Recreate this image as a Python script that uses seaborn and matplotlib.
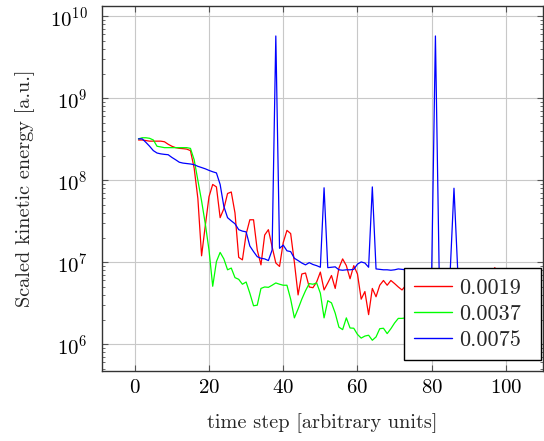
import numpy as np
import pandas as pd
import matplotlib
matplotlib.use("Agg")
import matplotlib.pyplot as plt
import seaborn as sns

# time steps and scaled kinetic energy for three step sizes
steps = list(range(1, 101))

energy_0019 = [
    3.1e8, 3.1e8, 3.05e8, 3.0e8, 3.0e8, 3.0e8, 3.0e8, 2.95e8, 2.75e8, 2.6e8,
    2.5e8, 2.45e8, 2.43e8, 2.4e8, 2.3e8, 1.41e8, 6.0e7, 1.2e7, 2.8e7, 6.3e7,
    8.9e7, 8.3e7, 3.5e7, 4.5e7, 6.9e7, 7.2e7, 4.0e7, 1.15e7, 1.07e7, 2.2e7,
    3.3e7, 3.3e7, 1.41e7, 9.3e6, 2.15e7, 2.5e7, 1.55e7, 9.8e6, 8.9e6, 1.74e7,
    2.45e7, 2.24e7, 1.0e7, 4.0e6, 7.2e6, 7.4e6, 5.0e6, 4.9e6, 5.75e6, 7.6e6,
    4.6e6, 5.6e6, 6.9e6, 4.8e6, 8.5e6, 1.1e7, 9.1e6, 6.3e6, 9.1e6, 7.2e6,
    3.55e6, 4.4e6, 2.3e6, 4.8e6, 3.8e6, 5.25e6, 6.0e6, 5.25e6, 6.0e6, 5.5e6,
    5.0e6, 4.6e6, 5.2e6, 5.4e6, 5.9e6, 6.3e6, 5.6e6, 6.8e6, 6.1e6, 5.3e6,
    6.6e6, 7.0e6, 6.0e6, 5.5e6, 6.9e6, 6.4e6, 7.1e6, 6.2e6, 5.8e6, 7.0e6,
    6.5e6, 6.9e6, 6.7e6, 7.0e6, 6.6e6, 7.1e6, 8.6e6, 7.0e6, 6.8e6, 7.0e6,
]

energy_0037 = [
    3.2e8, 3.3e8, 3.3e8, 3.25e8, 3.1e8, 2.6e8, 2.55e8, 2.5e8, 2.5e8, 2.5e8,
    2.5e8, 2.5e8, 2.5e8, 2.5e8, 2.45e8, 1.78e8, 1.0e8, 5.6e7, 2.95e7, 1.41e7,
    5.1e6, 1.02e7, 1.32e7, 1.1e7, 8.1e6, 8.5e6, 6.5e6, 6.2e6, 5.4e6, 5.75e6,
    4.2e6, 2.95e6, 3.0e6, 4.8e6, 5.0e6, 4.95e6, 5.25e6, 5.6e6, 5.4e6, 5.25e6,
    5.25e6, 3.55e6, 2.1e6, 2.7e6, 3.55e6, 4.5e6, 5.5e6, 5.4e6, 5.6e6, 4.2e6,
    2.1e6, 3.4e6, 3.2e6, 2.4e6, 1.62e6, 1.51e6, 2.1e6, 1.58e6, 1.57e6, 1.32e6,
    1.19e6, 1.26e6, 1.29e6, 1.12e6, 1.23e6, 1.55e6, 1.57e6, 1.35e6, 1.55e6, 1.82e6,
    2.07e6, 2.07e6, 2.1e6, 2.2e6, 2.0e6, 2.4e6, 2.6e6, 2.3e6, 2.8e6, 2.5e6,
    3.0e6, 2.7e6, 2.9e6, 3.3e6, 2.6e6, 3.1e6, 3.5e6, 3.2e6, 2.9e6, 3.6e6,
    3.4e6, 3.8e6, 3.3e6, 3.9e6, 3.5e6, 4.1e6, 3.7e6, 4.0e6, 4.3e6, 3.9e6,
]

energy_0075 = [
    3.2e8, 3.2e8, 2.9e8, 2.6e8, 2.3e8, 2.15e8, 2.1e8, 2.07e8, 2.05e8, 1.9e8,
    1.78e8, 1.66e8, 1.62e8, 1.6e8, 1.58e8, 1.55e8, 1.48e8, 1.43e8, 1.38e8, 1.32e8,
    1.27e8, 1.23e8, 8.9e7, 4.8e7, 3.5e7, 3.2e7, 2.95e7, 2.5e7, 2.4e7, 2.35e7,
    1.58e7, 1.35e7, 1.17e7, 1.12e7, 1.1e7, 1.05e7, 1.41e7, 5.75e9, 1.48e7, 1.62e7,
    1.38e7, 1.35e7, 1.12e7, 1.05e7, 9.8e6, 9.3e6, 9.9e6, 9.4e6, 9.1e6, 8.7e6,
    8.1e7, 8.6e6, 8.7e6, 8.8e6, 8.1e6, 8.0e6, 8.1e6, 8.1e6, 8.2e6, 9.5e6,
    1.01e7, 9.8e6, 8.7e6, 8.3e7, 8.3e6, 8.2e6, 8.1e6, 8.1e6, 8.0e6, 8.1e6,
    8.3e6, 8.2e6, 8.1e6, 8.0e6, 8.0e6, 8.1e6, 8.0e6, 8.0e6, 8.1e6, 8.2e6,
    5.75e9, 8.1e6, 8.0e6, 8.0e6, 8.1e6, 8.0e7, 8.1e6, 8.2e6, 8.3e6, 7.3e6,
    7.1e6, 7.0e6, 7.1e6, 7.0e6, 7.1e6, 7.0e6, 7.0e6, 7.1e6, 7.0e6, 7.0e6,
]

series_labels = ["0.0019", "0.0037", "0.0075"]
series_colors = ["#ff0000", "#00ff00", "#0000ff"]
x_ticks = [0, 20, 40, 60, 80, 100]

df = pd.concat(
    [
        pd.DataFrame({"step": steps, "energy": vals, "dt": lab})
        for lab, vals in zip(series_labels, [energy_0019, energy_0037, energy_0075])
    ],
    ignore_index=True,
)

sns.set_theme(style="whitegrid")
plt.rcParams.update({
    "font.family": ["cmr10", "DejaVu Serif"],
    "mathtext.fontset": "cm",
    "axes.formatter.use_mathtext": True,
    "axes.unicode_minus": False,
})

fig = plt.figure(figsize=(5.44, 4.41), dpi=100)
ax = fig.add_axes([0.187, 0.1594, 0.8106, 0.8277])

sns.lineplot(
    data=df, x="step", y="energy", hue="dt",
    palette=dict(zip(series_labels, series_colors)),
    hue_order=series_labels, linewidth=0.9, ax=ax, estimator=None,
)

ax.set_yscale("log")
ax.set_xlim(-8.9, 109.9)
ax.set_ylim(10 ** 5.678, 10 ** 10.129)
ax.set_xticks(x_ticks)
ax.yaxis.set_major_locator(matplotlib.ticker.LogLocator(base=10, numticks=10))
ax.yaxis.set_minor_locator(matplotlib.ticker.LogLocator(base=10, subs=np.arange(2, 10), numticks=20))
ax.yaxis.set_minor_formatter(matplotlib.ticker.NullFormatter())

ax.set_facecolor("white")
ax.grid(True, which="major", color="#c8c8c8", linewidth=0.8)
ax.grid(False, which="minor")
for sp in ax.spines.values():
    sp.set_color("#333333")
    sp.set_linewidth(1.0)

ax.tick_params(which="both", direction="in", top=True, right=True,
               bottom=True, left=True, colors="#555555", labelcolor="black")
ax.tick_params(which="major", length=4, width=0.8, labelsize=15)
ax.tick_params(which="minor", length=2.5, width=0.6)
ax.tick_params(axis="x", pad=6)
ax.tick_params(axis="y", pad=10)

ax.set_xlabel("time step [arbitrary units]", fontsize=14.6, labelpad=12)
ax.set_ylabel("Scaled kinetic energy [a.u.]", fontsize=14.6, labelpad=11)

leg = ax.legend(
    loc="lower left", bbox_to_anchor=(0.6855, 0.029, 0.3105, 0.247),
    mode="expand", borderaxespad=0,
    fontsize=16, frameon=True, fancybox=False, handlelength=1.7,
    handletextpad=0.35, borderpad=0.45, labelspacing=0.3,
)
leg.set_title(None)
leg.get_frame().set_edgecolor("black")
leg.get_frame().set_linewidth(1.0)
leg.get_frame().set_alpha(1.0)
for h in leg.get_lines():
    h.set_linewidth(1.0)

fig.savefig("out.png", dpi=100)
